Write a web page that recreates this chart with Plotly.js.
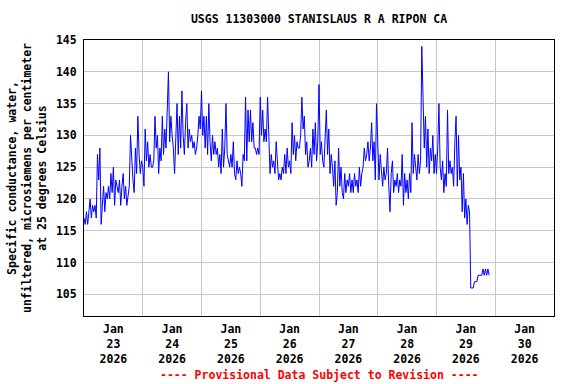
<!DOCTYPE html>
<html>
<head>
<meta charset="utf-8">
<script src="https://cdn.plot.ly/plotly-3.0.1.min.js"></script>
<style>html,body{margin:0;padding:0;background:#fff;}#chart{width:576px;height:384px;}</style>
</head>
<body>
<div id="chart"></div>
<script>
// Specific conductance, 30-minute readings starting 2026-01-23 00:00
var startTime = '2026-01-23T00:00:00';
var stepMinutes = 30;
var day23 = [117,116,118,116, 118,120,117,119, 118,119,117,127, 123,128,116,120, 122,118,121,120, 122,120,124,121, 125,119,123,122, 121,123,119,122, 124,120,122,119, 121,122,130,126, 123,121,128,124, 133,127,124,126];
var day24 = [125,122,131,126, 129,125,127,125, 125,126,133,128, 130,124,128,126, 133,127,131,128, 135,140,129,133, 130,128,124,129, 135,127,133,128, 137,130,127,132, 135,128,131,129, 130,128,129,127, 128,130,133,131];
var day25 = [137,130,133,128, 133,127,135,129, 126,130,127,129, 127,128,125,127, 124,131,125,128, 135,127,126,125, 127,125,129,124, 123,126,124,125, 124,122,127,126, 136,126,134,129, 134,129,132,128, 128,127,128,127];
var day26 = [136,130,134,129, 131,129,136,128, 124,127,125,126, 124,129,125,123, 124,123,125,124, 127,124,128,125, 126,124,132,127, 130,126,129,128, 128,130,136,131, 133,127,129,125, 126,128,125,131, 127,132,126,129];
var day27 = [138,127,129,126, 125,129,134,127, 131,124,127,125, 122,126,119,121, 128,122,125,121, 120,124,121,123, 122,124,121,123, 121,124,122,123, 121,125,122,124, 125,128,126,127, 129,126,128,132, 126,129,123,135];
var day28 = [130,123,127,124, 122,125,123,124, 128,122,118,124, 126,121,123,122, 124,121,123,122, 127,119,124,121, 123,120,124,121, 132,124,127,125, 123,127,124,126, 144,136,128,133, 125,131,124,128, 126,130,124,127];
var day29 = [124,128,135,125, 123,126,121,124, 122,134,124,126, 124,125,122,129, 133,122,130,123, 125,118,124,117, 120,116,119,118, 106,106,106,107, 107,107,108,108, 108,108,109,108, 109,108,109,108];

var tickDays = ['2026-01-23','2026-01-24','2026-01-25','2026-01-26','2026-01-27','2026-01-28','2026-01-29','2026-01-30'];
var tickLabels = ['Jan<br>23<br>2026','Jan<br>24<br>2026','Jan<br>25<br>2026','Jan<br>26<br>2026','Jan<br>27<br>2026','Jan<br>28<br>2026','Jan<br>29<br>2026','Jan<br>30<br>2026'];
var gridDays = ['2026-01-24','2026-01-25','2026-01-26','2026-01-27','2026-01-28','2026-01-29','2026-01-30'];
var yTicks = [105,110,115,120,125,130,135,140,145];

var values = [].concat(day23, day24, day25, day26, day27, day28, day29);
var t0 = new Date(startTime + 'Z').getTime();
function fmt(ms){ return new Date(ms).toISOString().slice(0,19).replace('T',' '); }
var times = values.map(function(v,i){ return fmt(t0 + i*stepMinutes*60000); });
var tickNoon = tickDays.map(function(d){ return d + ' 12:00'; });

var FONT = 'DejaVu Sans Mono';
var trace = {x: times, y: values, type: 'scatter', mode: 'lines',
  line: {color: '#0000ff', width: 1}, hoverinfo: 'skip'};

var layout = {
  width: 576, height: 384,
  margin: {l: 84, r: 22, t: 40, b: 68},
  paper_bgcolor: '#ffffff', plot_bgcolor: '#ffffff',
  showlegend: false,
  font: {family: FONT, size: 11.5, color: '#000000', weight: 'bold'},
  title: {text: 'USGS 11303000 STANISLAUS R A RIPON CA', x: 0.5, xref: 'paper', y: 0.95, yref: 'container', yanchor: 'middle',
    font: {family: FONT, size: 11.5, color: '#000000', weight: 'bold'}},
  xaxis: {type: 'date', range: ['2026-01-23 00:00', '2026-01-31 00:00'],
    tickmode: 'array', tickvals: tickNoon, ticktext: tickLabels, ticks: '',
    showgrid: false, zeroline: false, showline: true, mirror: true, linecolor: '#000000', linewidth: 1,
    tickfont: {family: FONT, size: 11.5, color: '#000000', weight: 'bold'}, ticklabelstandoff: 2,
    minor: {tickmode: 'array', tickvals: gridDays, showgrid: true, gridcolor: '#c8c8c8', gridwidth: 1, ticks: ''}},
  yaxis: {range: [101.6, 145], tickmode: 'array', tickvals: yTicks, ticks: '',
    showgrid: true, gridcolor: '#c8c8c8', gridwidth: 1, zeroline: false,
    showline: true, mirror: true, linecolor: '#000000', linewidth: 1,
    tickfont: {family: FONT, size: 11.5, color: '#000000', weight: 'bold'}, ticklabelstandoff: 4,
    title: {text: 'Specific conductance, water,<br>unfiltered, microsiemens per centimeter<br>at 25 degrees Celsius',
      font: {family: FONT, size: 11.5, color: '#000000', weight: 'bold'}, standoff: 6}},
  annotations: [{text: '---- Provisional Data Subject to Revision ----', xref: 'paper', yref: 'paper',
    x: 0.5, y: -0.215, yanchor: 'middle', xanchor: 'center', showarrow: false,
    font: {family: FONT, size: 11.5, color: '#ff0000', weight: 'bold'}}]
};

Plotly.newPlot('chart', [trace], layout, {displayModeBar: false, staticPlot: true});
</script>
</body>
</html>
